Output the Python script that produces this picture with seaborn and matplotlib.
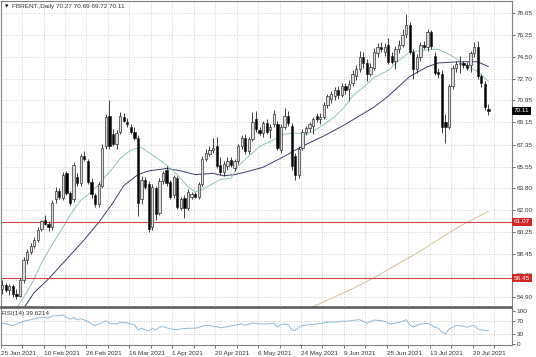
import numpy as np
import pandas as pd
import matplotlib
matplotlib.use("Agg")
import matplotlib.pyplot as plt
import matplotlib.transforms as mtransforms
import seaborn as sns

# daily OHLC, 25 Jan 2021 .. 4 Aug 2021
opens = [55.6, 55.9, 55.5, 55.8, 55.2, 55.0, 56.3, 57.9, 58.6, 59.1,
         59.6, 60.5, 61.2, 60.9, 60.6, 62.9, 63.6, 63.0, 65.0, 63.4,
         62.9, 64.7, 64.2, 66.4, 66.0, 64.3, 63.2, 62.5, 64.0, 67.2,
         69.7, 68.2, 67.4, 68.4, 69.6, 69.2, 68.8, 68.4, 67.9, 62.9,
         64.5, 64.1, 60.6, 63.8, 61.8, 64.4, 65.3, 64.3, 63.2, 64.6,
         62.2, 63.0, 62.2, 63.1, 63.3, 63.1, 64.1, 66.2, 66.6, 66.9,
         67.2, 65.7, 65.1, 65.6, 66.1, 65.4, 66.0, 67.2, 67.9, 66.8,
         67.8, 69.4, 68.5, 68.3, 69.1, 68.5, 69.0, 69.0, 66.9, 68.8,
         69.7, 68.9, 66.4, 64.9, 67.1, 68.4, 68.7, 68.9, 69.7, 69.4,
         69.6, 70.6, 71.1, 71.3, 71.8, 71.4, 72.1, 71.9, 72.4, 72.9,
         73.5, 74.5, 74.0, 73.1, 73.6, 74.8, 75.3, 74.9, 75.5, 74.6,
         74.2, 75.1, 75.5, 76.4, 77.1, 74.9, 73.5, 74.5, 75.5, 75.3,
         76.5, 74.6, 73.3, 73.1, 69.2, 68.8, 72.1, 73.6, 73.9, 74.0,
         73.8, 73.8, 74.8, 75.3, 72.9, 72.3, 70.27]
highs = [56.3, 56.1, 56.0, 56.0, 55.6, 56.5, 58.2, 58.8, 59.3, 59.8,
         60.6, 61.2, 61.6, 61.1, 62.8, 63.9, 63.8, 65.1, 65.2, 63.6,
         65.9, 65.0, 66.6, 66.8, 66.2, 64.6, 63.4, 64.3, 67.4, 69.8,
         71.0, 68.6, 68.5, 70.0, 69.9, 69.5, 69.0, 68.8, 68.1, 64.8,
         64.7, 64.4, 64.1, 64.0, 64.6, 65.2, 65.6, 64.5, 64.9, 64.8,
         63.1, 63.2, 63.7, 63.5, 63.5, 64.3, 66.4, 67.0, 67.2, 67.9,
         68.0, 66.3, 66.0, 66.3, 66.3, 66.2, 67.4, 68.1, 68.2, 68.0,
         70.0, 70.1, 68.8, 69.3, 69.4, 69.0, 70.2, 69.3, 69.0, 70.3,
         70.1, 69.1, 66.7, 67.2, 68.6, 68.9, 69.2, 69.6, 69.9, 69.9,
         70.8, 71.5, 71.7, 72.0, 72.1, 72.4, 72.4, 72.6, 73.4, 73.8,
         75.0, 74.9, 74.3, 74.0, 75.2, 75.6, 75.7, 75.6, 76.0, 74.9,
         75.4, 75.9, 76.8, 78.0, 77.3, 75.1, 74.7, 75.7, 75.8, 76.8,
         76.7, 74.9, 73.6, 73.4, 69.8, 72.3, 73.8, 74.2, 74.6, 74.2,
         74.1, 75.0, 75.7, 75.8, 73.1, 72.5, 70.69]
lows = [55.2, 55.3, 55.1, 54.9, 54.8, 54.9, 56.1, 57.6, 58.4, 58.9,
        59.4, 60.3, 60.8, 60.3, 60.4, 62.6, 62.9, 62.8, 63.2, 62.4,
        62.7, 64.0, 64.0, 66.0, 64.1, 63.0, 62.3, 62.3, 63.8, 67.0,
        67.0, 67.2, 67.0, 68.2, 69.2, 68.8, 68.2, 67.7, 61.5, 62.5,
        63.7, 60.2, 60.4, 61.2, 61.6, 64.1, 64.0, 62.9, 63.0, 62.1,
        62.0, 61.4, 62.0, 62.9, 63.0, 62.9, 64.0, 66.0, 66.4, 66.7,
        65.4, 64.9, 64.8, 65.3, 65.5, 65.2, 65.8, 67.0, 66.6, 66.6,
        67.6, 68.4, 68.1, 68.0, 68.2, 67.9, 68.8, 66.9, 66.7, 68.6,
        68.9, 65.3, 64.5, 64.6, 66.9, 68.1, 68.4, 68.2, 69.2, 69.0,
        69.4, 70.3, 70.7, 71.0, 71.1, 71.2, 71.5, 70.9, 72.1, 72.6,
        73.3, 73.6, 72.5, 72.9, 73.4, 74.5, 74.9, 74.6, 73.9, 73.9,
        73.5, 74.8, 75.3, 76.0, 74.7, 72.7, 73.2, 74.2, 75.1, 75.0,
        75.1, 73.0, 72.8, 68.3, 67.5, 68.6, 71.9, 73.3, 73.2, 73.6,
        73.4, 73.3, 74.5, 72.7, 72.0, 70.2, 69.72]
closes = [55.9, 55.5, 55.8, 55.2, 55.0, 56.3, 57.9, 58.6, 59.1, 59.6,
          60.4, 61.1, 60.9, 60.6, 62.6, 63.6, 63.1, 64.9, 63.4, 62.6,
          65.7, 64.2, 66.4, 66.2, 64.3, 63.3, 62.5, 64.1, 67.1, 69.6,
          67.2, 67.4, 68.3, 69.7, 69.3, 69.0, 68.4, 67.9, 62.6, 64.5,
          63.9, 60.5, 63.9, 61.7, 64.4, 65.0, 64.2, 63.1, 64.7, 62.3,
          62.9, 62.2, 63.5, 63.3, 63.1, 64.1, 66.2, 66.7, 66.9, 67.1,
          65.6, 65.1, 65.8, 66.0, 65.7, 66.0, 67.2, 67.9, 66.8, 67.8,
          69.2, 68.6, 68.3, 69.1, 68.4, 68.8, 69.8, 67.1, 68.8, 69.7,
          69.1, 65.6, 64.9, 67.0, 68.4, 68.7, 69.0, 69.4, 69.4, 69.6,
          70.6, 71.3, 71.5, 71.8, 71.4, 72.1, 71.8, 72.3, 73.1, 73.5,
          74.5, 74.0, 73.1, 73.7, 74.9, 75.3, 75.1, 75.3, 74.1, 74.1,
          75.1, 75.5, 76.3, 77.1, 74.9, 73.5, 74.5, 75.5, 75.3, 76.5,
          75.4, 73.2, 73.1, 68.8, 68.8, 72.1, 73.6, 73.9, 74.0, 73.8,
          73.6, 74.8, 75.3, 72.9, 72.4, 70.4, 70.11]

# moving averages, read at a few bars
ma_fast_bar = [4, 6, 9, 11, 14, 17, 19, 22, 25, 27, 30, 33, 35, 37, 39, 42, 46, 49, 52, 54,
               56, 58, 61, 64, 66, 69, 72, 75, 79, 82, 85, 87, 90, 93, 96, 98, 101, 104, 108,
               111, 114, 117, 120, 122, 125, 129, 131, 133, 136]
ma_fast = [54.0, 54.9, 56.4, 57.7, 59.2, 60.6, 61.6, 62.8, 63.5, 64.1, 65.1, 66.2, 66.7, 67.0,
           67.1, 66.5, 65.7, 64.9, 63.9, 63.5, 63.7, 64.0, 64.5, 64.6, 65.6, 66.4, 67.2, 67.6,
           68.2, 68.3, 68.2, 68.4, 69.0, 69.6, 70.5, 71.3, 72.0, 72.8, 73.4, 74.2, 74.9, 75.0,
           75.1, 75.1, 74.7, 74.0, 73.6, 73.3, 72.5]
ma_slow_bar = [6, 9, 13, 18, 23, 27, 31, 34, 38, 41, 46, 50, 54, 59, 62, 65, 68, 73, 79, 82,
               86, 91, 96, 100, 104, 108, 114, 119, 122, 128, 131, 133, 136]
ma_slow = [54.0, 55.3, 56.4, 58.0, 59.6, 61.0, 62.6, 64.0, 64.9, 65.2, 65.4, 65.2, 64.9, 65.0,
           64.8, 64.9, 65.1, 65.5, 66.4, 66.9, 67.5, 68.2, 69.0, 69.7, 70.4, 71.3, 72.9, 73.7,
           74.0, 74.1, 74.1, 74.1, 73.7]
ma_long_bar = [86, 92, 98, 104, 110, 116, 122, 128, 136]
ma_long = [54.0, 54.8, 55.6, 56.5, 57.5, 58.5, 59.6, 60.7, 61.9]

# RSI(14), read at a few bars
rsi_bar = [0, 2, 3, 5, 6, 8, 10, 11, 13, 14, 17, 18, 19, 20, 21, 22, 24, 25, 26, 28, 29, 30,
           32, 33, 35, 37, 38, 39, 41, 42, 43, 44, 45, 47, 49, 50, 52, 54, 56, 57, 60, 61, 63,
           66, 67, 68, 70, 72, 74, 76, 77, 78, 79, 80, 81, 82, 83, 84, 86, 88, 90, 91, 94, 95,
           97, 99, 100, 102, 104, 106, 107, 108, 109, 111, 112, 113, 114, 115, 116, 117, 119,
           120, 121, 122, 123, 124, 125, 126, 127, 129, 130, 131, 132, 133, 134, 135, 136]
rsi = [63, 58, 55, 64, 68, 73, 78, 80, 78, 84, 87, 80, 75, 80, 72, 76, 68, 60, 55, 64, 70, 62,
       60, 65, 63, 58, 42, 47, 38, 47, 42, 50, 52, 45, 42, 45, 47, 47, 53, 56, 52, 48, 52, 58,
       60, 56, 63, 60, 60, 62, 50, 58, 60, 58, 42, 40, 50, 55, 58, 60, 63, 65, 66, 68, 69, 72,
       73, 62, 72, 70, 68, 62, 60, 65, 68, 73, 58, 50, 56, 60, 62, 57, 50, 47, 35, 30, 45, 50,
       55, 53, 50, 54, 55, 45, 42, 40, 39.6]

price_ticks = [78.05, 76.25, 74.50, 72.70, 70.95, 69.15, 67.35, 65.55, 63.80, 62.00, 60.25,
               58.45, 56.70, 54.90]
date_labels = ["25 Jan 2021", "10 Feb 2021", "26 Feb 2021", "16 Mar 2021", "1 Apr 2021",
               "20 Apr 2021", "6 May 2021", "24 May 2021", "9 Jun 2021", "25 Jun 2021",
               "13 Jul 2021", "29 Jul 2021"]
levels = [61.07, 56.45]
rsi_ticks = [0, 30, 70, 100]

df = pd.DataFrame({"open": opens, "high": highs, "low": lows, "close": closes})
df["bar"] = np.arange(len(df))
df["up"] = df["close"] >= df["open"]

sns.set_theme(style="white")
plt.rcParams["font.family"] = ["Liberation Sans", "DejaVu Sans"]
txt = "#333333"
fs = 4.6

fig = plt.figure(figsize=(5.36, 3.57), dpi=100)
W, H = 536, 357
ax = fig.add_axes([0.5 / W, 1 - 306.5 / H, 511.5 / W, 305.5 / H])
ax2 = fig.add_axes([0.5 / W, 1 - 345 / H, 511.5 / W, 37.5 / H], sharex=ax)

# candles
ax.vlines(df["bar"], df["low"], df["high"], color="#202020", lw=0.6, zorder=3)
body_lo = df[["open", "close"]].min(axis=1)
body_h = (df["close"] - df["open"]).abs().clip(lower=0.06)
face = np.where(df["up"], "#dcdcdc", "#000000")
ax.bar(df["bar"], body_h, bottom=body_lo, width=0.64, color=face,
       edgecolor="#202020", linewidth=0.45, zorder=4)

sns.lineplot(x=ma_long_bar, y=ma_long, ax=ax, color="#d8c7a0", lw=0.8, zorder=2)
sns.lineplot(x=ma_slow_bar, y=ma_slow, ax=ax, color="#3c3c6a", lw=0.7, zorder=2)
sns.lineplot(x=ma_fast_bar, y=ma_fast, ax=ax, color="#92c3bc", lw=0.7, zorder=2)

for lv in levels:
    ax.axhline(lv, color="#d24545", lw=0.8, zorder=2)

ax.set_xlim(-0.45, 142.6)
ax.set_ylim(54.15, 79.05)
grid_pos = np.arange(0, 143, 6) - 0.4
ax.set_xticks(grid_pos)
ax.set_yticks(price_ticks)
ax.set_yticklabels([f"{v:.2f}" for v in price_ticks])
ax.yaxis.tick_right()
ax.tick_params(axis="y", labelsize=fs, length=2, width=0.5, pad=1.5, colors=txt, right=True)
ax.tick_params(axis="x", length=0, labelbottom=False)
ax.grid(True, ls=(0, (1, 2)), color="#c4c4c4", lw=0.6)

# price labels on the right scale
trans = mtransforms.blended_transform_factory(ax.transAxes, ax.transData)
ax.text(1.004, closes[-1], f"{closes[-1]:.2f}", transform=trans, fontsize=fs, color="white",
        va="center", ha="left", zorder=10, clip_on=False,
        bbox=dict(boxstyle="square,pad=0.25", fc="black", ec="none"))
for lv in levels:
    ax.text(1.004, lv, f"{lv:.2f}", transform=trans, fontsize=fs, color="white",
            va="center", ha="left", zorder=10, clip_on=False,
            bbox=dict(boxstyle="square,pad=0.25", fc="#d42828", ec="none"))

ax.text(4 / 511.5, 1 - 5 / 305.5, "\u25bc", transform=ax.transAxes, fontsize=3.2,
        color="black", va="center", ha="left", family=["DejaVu Sans"])
ax.text(11 / 511.5, 1 - 5.5 / 305.5,
        f"FBRENT.,Daily {opens[-1]:.2f} {highs[-1]:.2f} {lows[-1]:.2f} {closes[-1]:.2f}",
        transform=ax.transAxes, fontsize=fs, color=txt, va="center", ha="left")

# RSI window
sns.lineplot(x=rsi_bar, y=rsi, ax=ax2, color="#8fb9d6", lw=0.7)
for lv in (30, 70):
    ax2.axhline(lv, ls=(0, (1, 2)), color="#b0b0b0", lw=0.6)
ax2.set_ylim(-4, 110)
ax2.set_yticks(rsi_ticks)
ax2.yaxis.tick_right()
ax2.tick_params(axis="y", labelsize=fs, length=2, width=0.5, pad=1.5, colors=txt, right=True)
ax2.set_xticks(grid_pos)
ax2.set_xticklabels([date_labels[k // 2] if k % 2 == 0 and k // 2 < len(date_labels) else ""
                     for k in range(len(grid_pos))])
for lbl in ax2.get_xticklabels():
    lbl.set_ha("left")
ax2.tick_params(axis="x", labelsize=fs, length=2, width=0.5, pad=2, colors=txt, bottom=True)
ax2.grid(True, axis="x", ls=(0, (1, 2)), color="#c4c4c4", lw=0.6)
ax2.set_xlabel("")
ax2.set_ylabel("")
ax.set_xlabel("")
ax.set_ylabel("")
ax2.text(2 / 511.5, 0.84, f"RSI(14) {39.6214:.4f}", transform=ax2.transAxes,
         fontsize=fs, color=txt, va="center", ha="left")

for a in (ax, ax2):
    for s in a.spines.values():
        s.set_color("#808080")
        s.set_linewidth(0.8)
ax.spines["bottom"].set_color("#555555")
ax.spines["bottom"].set_linewidth(1.1)
ax2.spines["top"].set_color("#555555")
ax2.spines["top"].set_linewidth(1.1)

fig.savefig("out.png", dpi=100, facecolor="white")
